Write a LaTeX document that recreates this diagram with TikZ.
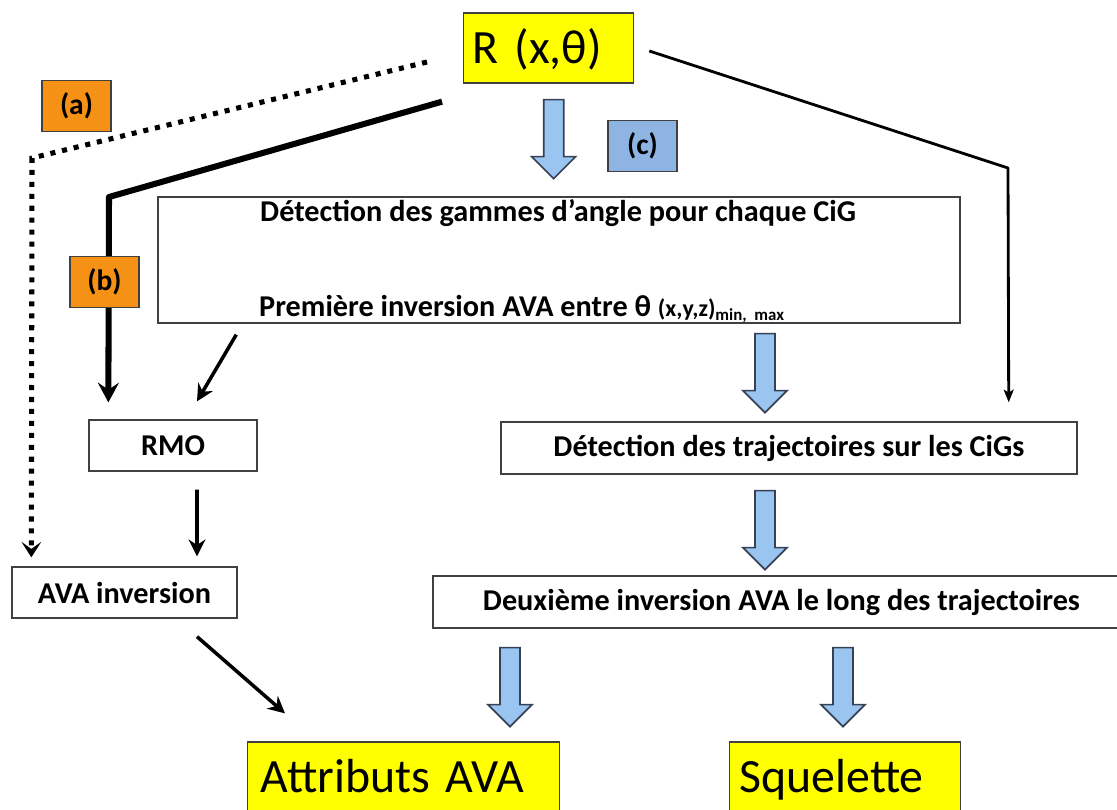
\documentclass[tikz,border=0pt]{standalone}
\usepackage{fontspec}
\setmainfont{Carlito}
\usetikzlibrary{arrows.meta, calc}

\definecolor{boxyellow}{RGB}{255,255,0}
\definecolor{tagorange}{RGB}{245,145,20}
\definecolor{tagblue}{RGB}{142,180,227}
\definecolor{arrowblue}{RGB}{153,197,240}
\definecolor{arrowedge}{RGB}{55,65,85}

% hollow blue arrow, given its tail point
\newcommand{\blockarrow}[1]{%
  \filldraw[block arrow] ($#1+(-10,0)$) -- ++(20,0) -- ++(0,57) -- ++(12,0)
    -- ++(-22,22) -- ++(-22,-22) -- ++(12,0) -- cycle;}

\begin{document}
\begin{tikzpicture}[x=0.025cm, y=-0.025cm,
  plain box/.style={draw=black!75, line width=0.9pt, fill=white,
    font=\bfseries\fontsize{21.5}{24}\selectfont, inner sep=0pt},
  yellow box/.style={draw=black!75, line width=0.9pt, fill=boxyellow,
    font=\fontsize{34}{40}\selectfont, align=left, inner ysep=0pt},
  tag box/.style={draw=black!75, line width=0.9pt,
    font=\bfseries\fontsize{21}{24}\selectfont,
    minimum width=1.725cm, minimum height=1.275cm, inner sep=0pt},
  block arrow/.style={draw=arrowedge, line width=1.2pt, fill=arrowblue},
  link/.style={line width=2.5pt, -{Stealth[length=12pt, width=12pt, inset=4pt]}},
  thick link/.style={line width=4.3pt, line join=round,
    -{Stealth[length=14pt, width=15pt, inset=5pt]}},
  thin link/.style={line width=2pt, line join=round,
    -{Stealth[length=9pt, width=7pt, inset=2pt]}},
  dotted link/.style={line width=3.6pt, dash pattern=on 3.6pt off 4.9pt,
    -{Stealth[length=11pt, width=14pt, inset=5pt]}}]

  \useasboundingbox (0,0) rectangle (1117,809);
  \clip (0,0) rectangle (1117,809);

  \node[yellow box, anchor=base west, inner xsep=0.225cm, text width=3.8cm,
    text height=1.25cm, text depth=0.5cm] (R) at (463,63) {R (x,θ)};

  \node[plain box, minimum width=20.05cm, minimum height=3.15cm] (big) at (559,260) {};
  \node[anchor=base west, font=\bfseries\fontsize{21.5}{24}\selectfont] (gammes)
    at ($(big.north west)+(98,25)$) {Détection des gammes d’angle pour chaque CiG};
  \node[anchor=base west, font=\bfseries\fontsize{21.5}{24}\selectfont] (inversion)
    at ($(big.north west)+(97,120)$)
    {Première inversion AVA entre θ {\fontsize{17}{18}\selectfont(x,y,z)}\textsubscript{\fontsize{12}{12}\selectfont min,~~max}};

  \node[plain box, minimum width=4.2cm, minimum height=1.275cm] (RMO) at (173,445.5) {RMO};
  \node[plain box, minimum width=5.625cm, minimum height=1.275cm] (AVA) at (124.5,592.5) {AVA inversion};
  \node[plain box, minimum width=14.4cm, minimum height=1.3cm] (traj) at (789,448)
    {Détection des trajectoires sur les CiGs};
  \node[plain box, minimum width=17.425cm, minimum height=1.3cm] (deux) at (781.5,602)
    {Deuxième inversion AVA le long des trajectoires};

  \node[yellow box, anchor=base west, inner xsep=0.325cm, text width=7.15cm,
    text height=1.25cm, text depth=1.25cm] (attr) at (247,792) {Attributs AVA};
  \node[yellow box, anchor=base west, inner xsep=0.25cm, text width=5.275cm,
    text height=1.25cm, text depth=1.25cm] (squel) at (729,792) {Squelette};

  \node[tag box, fill=tagorange] (a) at (76.5,106) {(a)};
  \node[tag box, fill=tagblue] (c) at (642.5,146) {(c)};

  % bends of the long paths
  \coordinate (dotbend) at (32,158);
  \coordinate (thickbend) at (109,197);
  \coordinate (rightbend) at (1008,168);

  \draw[dotted link] ($(R.west)+(-36,14)$) -- (dotbend) -- ($(AVA.north west)+(20,-9)$);
  \draw[thick link] ($(R.south west)+(-21,18)$) -- (thickbend) -- ($(RMO.north west)+(20,-17)$);
  \draw[thin link] ($(R.east)+(15,3)$) -- (rightbend) -- ($(traj.north east)+(-69,-19)$);

  \draw[link] ($(big.south west)+(79,11)$) -- ($(RMO.north)+(24,-18)$);
  \draw[link] ($(RMO.south)+(24,18)$) -- ($(AVA.north)+(72.5,-10)$);
  \draw[link] ($(AVA.south)+(72.5,18)$) -- ($(attr.north west)+(38,-28)$);

  \node[tag box, fill=tagorange] (b) at (104.5,282) {(b)};

  \foreach \n/\dx/\dy in {R/5/16, big/206/10, traj/-24/16, deux/-271.5/19, deux/61.5/19} {
    \blockarrow{(\n.south)+(\dx,\dy)}}
\end{tikzpicture}
\end{document}
